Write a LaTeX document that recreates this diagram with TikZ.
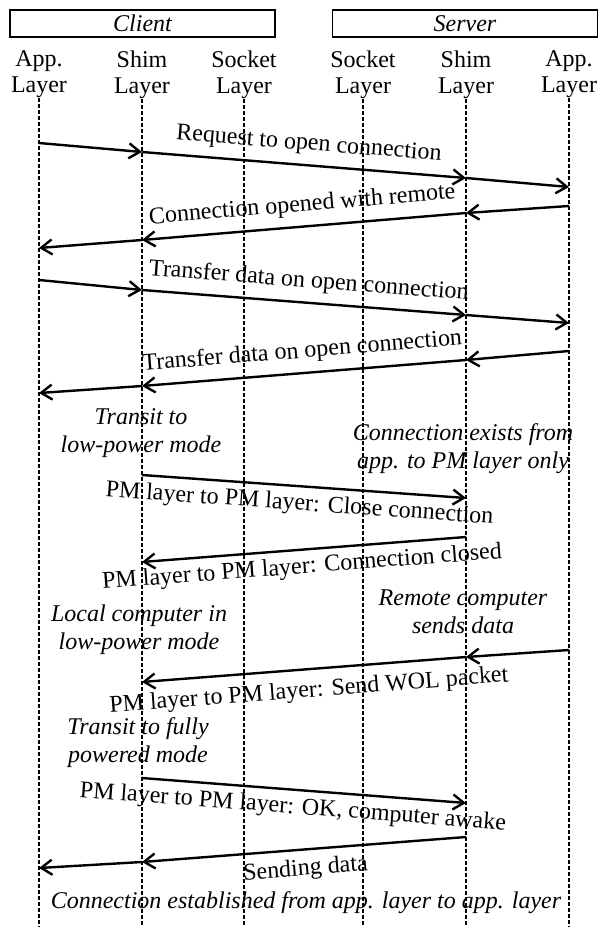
\documentclass[tikz,border=0pt]{standalone}
\usepackage{fontspec}
\setmainfont{Liberation Serif}
\usetikzlibrary{arrows.meta, positioning}

\begin{document}
\begin{tikzpicture}[x=1pt, y=-1pt,
        side/.style={draw, line width=1.4pt, minimum width=265pt, minimum height=27pt,
            inner sep=0pt, font=\fontsize{24}{26}\selectfont\itshape},
        hdr/.style={align=center, inner sep=0pt, font=\fontsize{24}{26}\selectfont},
        life/.style={line width=1.3pt, dash pattern=on 4pt off 2pt},
        msg/.style={line width=2.4pt, -{Straight Barb[length=11pt, width=15pt]}},
        lbl/.style={sloped, inner sep=1pt, font=\fontsize{24}{26}\selectfont},
        note/.style={align=center, inner sep=0pt, font=\fontsize{24}{28}\selectfont\itshape}
    ]
        \useasboundingbox (0,0) rectangle (598,927);

        \node[side] (client) at (142.5,23.5) {Client};
        \node[side] (server) at (465,23.5) {Server};

        \node[hdr] (capp) at (39,74.4) {App.\\Layer};
        \node[hdr] (cshim) at (142,74.4) {Shim\\Layer};
        \node[hdr] (csock) at (244,74.4) {Socket\\Layer};
        \node[hdr] (ssock) at (363,74.4) {Socket\\Layer};
        \node[hdr] (sshim) at (466,74.4) {Shim\\Layer};
        \node[hdr] (sapp) at (569,74.4) {App.\\Layer};

        % lifelines
        \foreach \n/\x in {capp/39, cshim/142, csock/244, ssock/363, sshim/466, sapp/569} {
            \coordinate (\n-bot) at (\x,927);
            \draw[life] (\n.south) -- (\n-bot);
        }

        % message points on the lifelines
        \coordinate (req0) at (39,143);  \coordinate (req1) at (142,152);
        \coordinate (req2) at (466,178); \coordinate (req3) at (569,187);
        \coordinate (opn0) at (569,206); \coordinate (opn1) at (466,213);
        \coordinate (opn2) at (142,240); \coordinate (opn3) at (39,248);
        \coordinate (tx0) at (39,280);   \coordinate (tx1) at (142,290);
        \coordinate (tx2) at (466,315);  \coordinate (tx3) at (569,323);
        \coordinate (rx0) at (569,351);  \coordinate (rx1) at (466,360);
        \coordinate (rx2) at (142,386);  \coordinate (rx3) at (39,393);
        \coordinate (cls0) at (142,475); \coordinate (cls1) at (466,498);
        \coordinate (clsd0) at (466,537); \coordinate (clsd1) at (142,562);
        \coordinate (wol0) at (569,650); \coordinate (wol1) at (466,657);
        \coordinate (wol2) at (142,682);
        \coordinate (awk0) at (142,778); \coordinate (awk1) at (466,803);
        \coordinate (snd0) at (466,837); \coordinate (snd1) at (142,862);
        \coordinate (snd2) at (39,868);

        \draw[msg] (req0) -- (req1);
        \draw[msg] (req1) -- node[lbl, above=8pt, pos=0.51] (lreq) {Request to open connection} (req2);
        \draw[msg] (req2) -- (req3);

        \draw[msg] (opn0) -- (opn1);
        \draw[msg] (opn1) -- node[lbl, above=8pt, pos=0.5] (lopn) {Connection opened with remote} (opn2);
        \draw[msg] (opn2) -- (opn3);

        \draw[msg] (tx0) -- (tx1);
        \draw[msg] (tx1) -- node[lbl, above=8pt, pos=0.51] (ltx) {Transfer data on open connection} (tx2);
        \draw[msg] (tx2) -- (tx3);

        \draw[msg] (rx0) -- (rx1);
        \draw[msg] (rx1) -- node[lbl, above=8pt, pos=0.5] (lrx) {Transfer data on open connection} (rx2);
        \draw[msg] (rx2) -- (rx3);

        \node[note] (tlow) at (141,433) {Transit to\\low-power mode};
        \node[note] (cexist) at (463,449) {Connection exists from\\app. to PM layer only};

        \draw[msg] (cls0) -- node[lbl, below=5pt, pos=0.49] (lcls) {PM layer to PM layer: Close connection} (cls1);
        \draw[msg] (clsd0) -- node[lbl, below=5pt, pos=0.51] (lclsd) {PM layer to PM layer: Connection closed} (clsd1);

        \node[note] (lowpm) at (139,630) {Local computer in\\low-power mode};
        \node[note] (rsend) at (463,612) {Remote computer\\sends data};

        \draw[msg] (wol0) -- (wol1);
        \draw[msg] (wol1) -- node[lbl, below=9pt, pos=0.49] (lwol) {PM layer to PM layer: Send WOL packet} (wol2);

        \node[note] (tfull) at (138,743) {Transit to fully\\powered mode};

        \draw[msg] (awk0) -- node[lbl, below=5pt, pos=0.47] (lawk) {PM layer to PM layer: OK, computer awake} (awk1);

        \draw[msg] (snd0) -- node[lbl, below=7pt, pos=0.5] (lsnd) {Sending data} (snd1);
        \draw[msg] (snd1) -- (snd2);

        \node[note, anchor=base] (estab) at (306,908) {Connection established from app. layer to app. layer};
\end{tikzpicture}
\end{document}
